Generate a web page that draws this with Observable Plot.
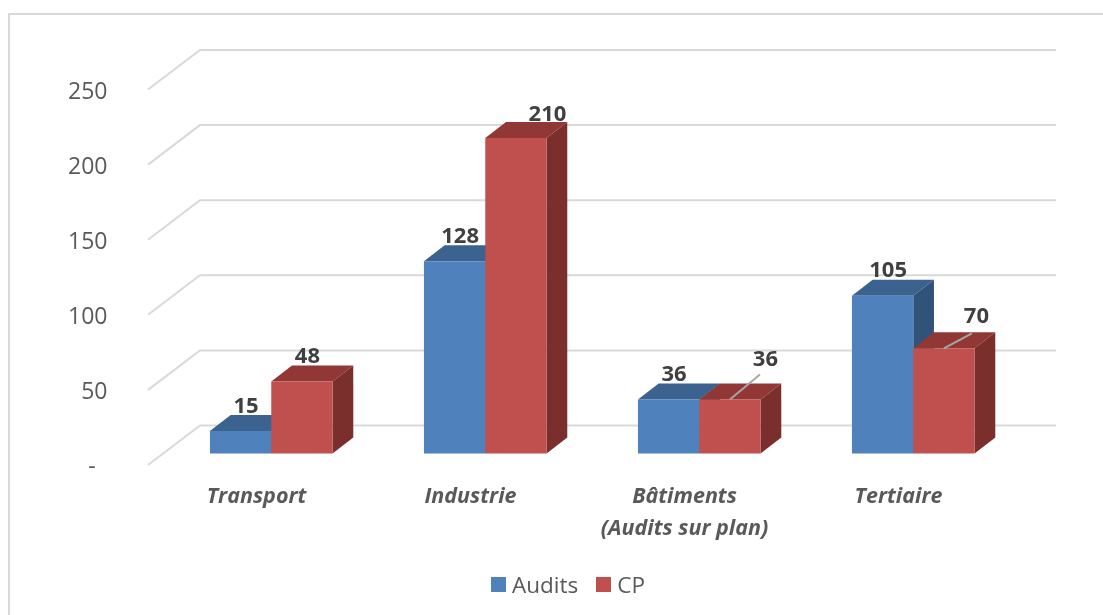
<!DOCTYPE html>
<html>
<head>
<meta charset="utf-8">
<script src="https://cdn.jsdelivr.net/npm/d3@7"></script>
<script src="https://cdn.jsdelivr.net/npm/@observablehq/plot@0.6"></script>
<style>
  html, body { margin: 0; padding: 0; background: #fff; overflow: hidden; }
  #page { position: relative; width: 1103px; height: 615px; overflow: hidden; filter: blur(0.45px); }
  #frame { position: absolute; left: 8px; top: 13px; right: -4px; bottom: -4px;
           border-left: 2px solid #d9d9d9; border-top: 2px solid #d9d9d9; }
  #chart { position: absolute; left: 0; top: 0; }
  #legend { position: absolute; left: 491px; top: 565px; display: flex; align-items: center;
            font: 22.5px "Open Sans", sans-serif; color: #595959; height: 38px; }
  #legend span.s { display: inline-block; width: 15px; height: 15px; margin-right: 6px; }
  #legend span.t { margin-right: 18px; }
</style>
</head>
<body>
<div id="page"><div id="frame"></div><div id="chart"></div><div id="legend"></div></div>
<script>
const categories = ["Transport", "Industrie", "Bâtiments\n(Audits sur plan)", "Tertiaire"];
const seriesNames = ["Audits", "CP"];
const audits = [15, 128, 36, 105];
const cp = [48, 210, 36, 70];
const yTicks = [0, 50, 100, 150, 200, 250];

const rows = categories.flatMap((category, i) => [
  {category, series: "Audits", value: audits[i]},
  {category, series: "CP", value: cp[i]}
]);

const FONT = '"Open Sans", sans-serif';
const front = ["#4f81bd", "#c0504d"];
const topFace = ["#3c6290", "#913836"];
const sideFace = ["#315279", "#7b2f2d"];
const seriesIdx = s => seriesNames.indexOf(s);

const W = 1103, H = 570, ML = 148, MR = 99, MT = 78, MB = 116.5;
// projection of the 3D look (pixels)
const barDepth = [20.7, -16];
const wallDepth = [52, -39.5];
const floorFront = 11.5;

function polygon(parent, pts, fill) {
  parent.append("svg:polygon").attr("points", pts.map(p => p.join(",")).join(" ")).attr("fill", fill);
}

// grid of the back wall and side wall, drawn once (in the first facet)
function wallRender(I, scales) {
  const g = d3.create("svg:g").attr("fill", "none").attr("stroke", "#d9d9d9").attr("stroke-width", 2);
  const L = ML, R = W - MR;
  for (const v of yTicks) {
    const y = scales.y(v);
    g.append("svg:path").attr("d",
      `M${L},${y + floorFront}L${L + wallDepth[0]},${y + floorFront + wallDepth[1]}L${R + wallDepth[0]},${y + floorFront + wallDepth[1]}`);
  }
  return g.node();
}

// bars as boxes: faces derived from the same x and y scales as the front
function boxRender(I, scales) {
  const g = d3.create("svg:g");
  const w = scales.x.bandwidth();
  const [dx, dy] = barDepth;
  const y0 = scales.y(0);
  for (const i of I) {
    const r = rows[i], k = seriesIdx(r.series);
    const x = scales.x(r.series), y = scales.y(r.value);
    polygon(g, [[x, y], [x + dx, y + dy], [x + w + dx, y + dy], [x + w, y]], topFace[k]);
    polygon(g, [[x + w, y], [x + w + dx, y + dy], [x + w + dx, y0 + dy], [x + w, y0]], sideFace[k]);
    polygon(g, [[x, y], [x + w, y], [x + w, y0], [x, y0]], front[k]);
  }
  return g.node();
}

const labelStyle = {
  x: "series", y: "value", fx: "category", text: "value",
  fontSize: 22, fontWeight: 700, fontFamily: FONT, fill: "#404040"
};

const isMoved = (cat, ser) => d => d.category === cat && d.series === ser;
// adds a leader line from the bar top to a moved label
function leader(value, lx, ly) {
  return (I, scales, values, dims, ctx, next) => {
    const g = d3.create("svg:g");
    const cx = scales.x("CP") + scales.x.bandwidth() / 2;
    const y = scales.y(value);
    g.append("svg:line").attr("x1", cx).attr("x2", cx + lx).attr("y1", y).attr("y2", y + ly)
      .attr("stroke", "#a6a6a6").attr("stroke-width", 2);
    g.node().appendChild(next(I, scales, values, dims, ctx));
    return g.node();
  };
}

const plot = Plot.plot({
  width: W,
  height: H,
  marginTop: MT,
  marginBottom: MB,
  marginLeft: ML,
  marginRight: MR,
  style: {background: "transparent", fontFamily: FONT, overflow: "visible"},
  fx: {domain: categories, padding: 0, round: false, axis: null},
  x: {type: "band", domain: seriesNames, paddingInner: 0, paddingOuter: 0.745, align: 0.678, round: false, axis: null},
  y: {domain: [0, 250], axis: null},
  marks: [
    Plot.ruleY(yTicks, {fx: () => categories[0], render: wallRender}),
    Plot.barY(rows, {x: "series", y: "value", fx: "category", fill: "series", render: boxRender}),
    Plot.axisY(yTicks, {
      anchor: "left", tickSize: 0, tickPadding: 41, dy: floorFront + 1.5, label: null,
      tickFormat: d => d === 0 ? "-\u00a0\u00a0" : d, fontSize: 23, fontFamily: FONT, fill: "#595959"
    }),
    Plot.axisFx({
      anchor: "bottom", tickSize: 0, tickPadding: 26.5, dx: 1, label: null, lineAnchor: "top",
      fontSize: 21.5, fontWeight: 700, fontStyle: "italic", fontFamily: FONT, fill: "#595959", lineHeight: 1.49
    }),
    Plot.text(rows.filter(d => !(isMoved(categories[1], "CP")(d) || isMoved(categories[2], "CP")(d) || isMoved(categories[3], "CP")(d))),
      {...labelStyle, dx: 5, dy: -26}),
    Plot.text(rows.filter(isMoved(categories[1], "CP")), {...labelStyle, dx: 31, dy: -25}),
    Plot.text(rows.filter(isMoved(categories[2], "CP")), {...labelStyle, dx: 35, dy: -41, render: leader(cp[2], 30, -25)}),
    Plot.text(rows.filter(isMoved(categories[3], "CP")), {...labelStyle, dx: 32, dy: -33, render: leader(cp[3], 28, -15)})
  ]
});
document.getElementById("chart").appendChild(plot);

const legend = d3.select("#legend");
seriesNames.forEach((name, k) => {
  legend.append("span").attr("class", "s").style("background", front[k]);
  legend.append("span").attr("class", "t").text(name);
});
</script>
</body>
</html>
